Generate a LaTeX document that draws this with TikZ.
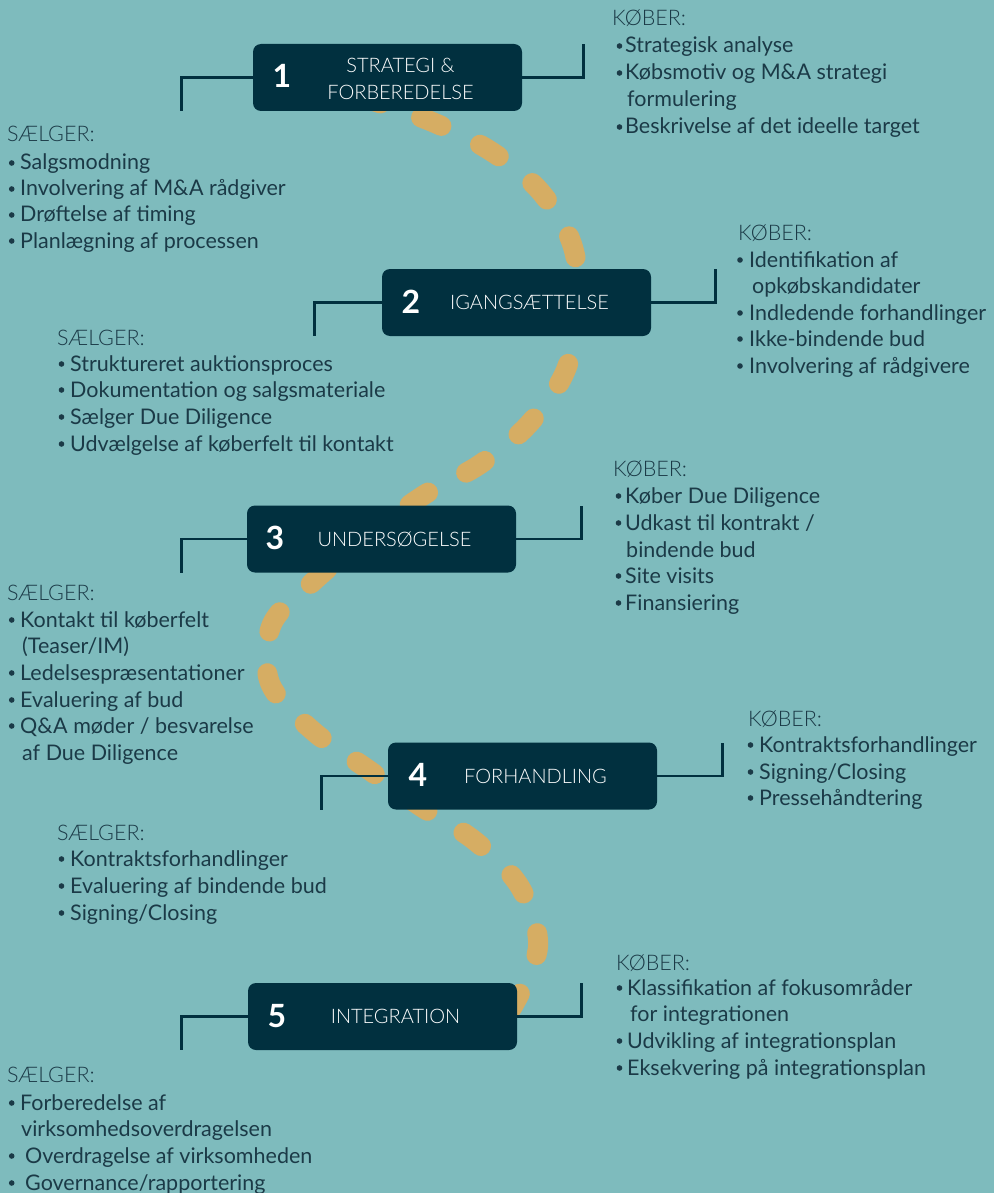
\documentclass[tikz,border=0pt]{standalone}
\usepackage{fontspec}
\setmainfont{Lato}
\newfontfamily\lightfont{Lato Light}
\usetikzlibrary{calc}
\definecolor{bgc}{HTML}{7EBBBD}
\definecolor{boxc}{HTML}{01303F}
\definecolor{tanc}{HTML}{D6AD63}
\definecolor{txtc}{HTML}{1B3A47}
% \itm{name}{bullet centre x}{baseline y}{text x}{text}
\newcommand{\itm}[5]{\node[it] (#1) at (#4,#3) {#5};
  \fill[txtc] (#2,#3-7) circle (2.8pt);}
\begin{document}
\begin{tikzpicture}[x=1pt,y=-1pt,
  every node/.style={inner sep=0pt},
  stagebox/.style={fill=boxc, rounded corners=8pt, minimum width=269pt, minimum height=67pt},
  numtxt/.style={anchor=base, text=white, font=\bfseries\fontsize{32}{34}\selectfont},
  ttl/.style={anchor=base, text=white, font=\lightfont\fontsize{20}{24}\selectfont},
  brk/.style={draw=boxc, line width=2.8pt},
  hd/.style={anchor=base west, text=txtc, font=\lightfont\fontsize{21.5}{26}\selectfont},
  it/.style={anchor=base west, text=txtc, font=\fontsize{21.5}{26}\selectfont},
  snake/.style={draw=tanc, line width=20pt, line cap=round}]
\useasboundingbox (0,0) rectangle (994,1193);
\fill[bgc] (0,0) rectangle (994,1193);

% dashed path (two pieces joined behind box 3)
\draw[snake, dash pattern=on 22pt off 43pt, dash phase=11pt]
  plot[smooth, tension=0.55] coordinates {
 (370,100) (430,121) (489,150) (539,190) (572,244) (579,308) (565,372)
 (528,425) (479,465) (424,495) (368,535)};
\draw[snake, dash pattern=on 22pt off 42.2pt, dash phase=11pt]
  plot[smooth, tension=0.55] coordinates {
 (368,535) (315,580) (272,624) (270,683) (313,731) (366,768) (420,806)
 (475,841) (520,887) (538,947) (512,1008)};

% stage boxes
\node[stagebox] (b1) at (387.5,77.5) {};
\node[stagebox] (b2) at (516.5,302.5) {};
\node[stagebox] (b3) at (381.5,539) {};
\node[stagebox] (b4) at (522.5,776) {};
\node[stagebox] (b5) at (382.5,1016.5) {};

% brackets
\draw[brk] (b1.west) -- ++(-71,0) -- ++(0,33.5);
\draw[brk] (b1.east) -- ++(61,0) -- ++(0,-33.5);
\draw[brk] (b2.west) -- ++(-67,0) -- ++(0,33.5);
\draw[brk] (b2.east) -- ++(64,0) -- ++(0,-33.5);
\draw[brk] (b3.west) -- ++(-65,0) -- ++(0,33.5);
\draw[brk] (b3.east) -- ++(65,0) -- ++(0,-33.5);
\draw[brk] (b4.west) -- ++(-66,0) -- ++(0,33.5);
\draw[brk] (b4.east) -- ++(65,0) -- ++(0,-33.5);
\draw[brk] (b5.west) -- ++(-66,0) -- ++(0,33.5);
\draw[brk] (b5.east) -- ++(64,0) -- ++(0,-33.5);

% numbers and titles
\node[numtxt] (n1) at ($(b1.west)+(29,10.5)$) {1};
\node[ttl] (t1a) at ($(b1.center)+(13,-4.5)$) {STRATEGI \&};
\node[ttl] (t1b) at ($(b1.center)+(13,22.5)$) {FORBEREDELSE};
\node[numtxt] (n2) at ($(b2.west)+(29,10.5)$) {2};
\node[ttl] (t2) at ($(b2.center)+(13,7)$) {IGANGSÆTTELSE};
\node[numtxt] (n3) at ($(b3.west)+(28,10.5)$) {3};
\node[ttl] (t3) at ($(b3.center)+(13,7)$) {UNDERSØGELSE};
\node[numtxt] (n4) at ($(b4.west)+(30,10.5)$) {4};
\node[ttl] (t4) at ($(b4.center)+(13,7)$) {FORHANDLING};
\node[numtxt] (n5) at ($(b5.west)+(29,10.5)$) {5};
\node[ttl] (t5) at ($(b5.center)+(13,7)$) {INTEGRATION};

% KØBER 1
\node[hd] (k1h) at (612,26) {KØBER:};
\itm{k1a}{619.5}{53}{625}{Strategisk analyse}
\itm{k1b}{619.5}{80}{625}{Købsmotiv og M\&A strategi}
\node[it] (k1c) at (627,107) {formulering};
\itm{k1d}{619.5}{134}{625}{Beskrivelse af det ideelle target}

% SÆLGER 1
\node[hd] (s1h) at (7,142) {SÆLGER:};
\itm{s1a}{11.7}{170}{20}{Salgsmodning}
\itm{s1b}{11.7}{196}{20}{Involvering af M\&A rådgiver}
\itm{s1c}{11.7}{222}{20}{Drøftelse af timing}
\itm{s1d}{11.7}{248}{20}{Planlægning af processen}

% KØBER 2
\node[hd] (k2h) at (738,240) {KØBER:};
\itm{k2a}{740}{267}{749}{Identifikation af}
\node[it] (k2b) at (752,293) {opkøbskandidater};
\itm{k2c}{740}{320}{749}{Indledende forhandlinger}
\itm{k2d}{740}{346}{749}{Ikke-bindende bud}
\itm{k2e}{740}{373}{749}{Involvering af rådgivere}

% SÆLGER 2
\node[hd] (s2h) at (57,345) {SÆLGER:};
\itm{s2a}{61.5}{371}{70}{Struktureret auktionsproces}
\itm{s2b}{61.5}{397}{70}{Dokumentation og salgsmateriale}
\itm{s2c}{61.5}{424}{70}{Sælger Due Diligence}
\itm{s2d}{61.5}{451}{70}{Udvælgelse af køberfelt til kontakt}

% KØBER 3
\node[hd] (k3h) at (613,476) {KØBER:};
\itm{k3a}{618.5}{503}{625}{Køber Due Diligence}
\itm{k3b}{618.5}{530}{625}{Udkast til kontrakt /}
\node[it] (k3c) at (626,557) {bindende bud};
\itm{k3d}{618.5}{583}{625}{Site visits}
\itm{k3e}{618.5}{610}{625}{Finansiering}

% SÆLGER 3
\node[hd] (s3h) at (7,600) {SÆLGER:};
\itm{s3a}{11.7}{627}{20}{Kontakt til køberfelt}
\node[it] (s3b) at (22,653) {(Teaser/IM)};
\itm{s3c}{11.7}{680}{20}{Ledelsespræsentationer}
\itm{s3d}{11.7}{707}{20}{Evaluering af bud}
\itm{s3e}{11.7}{733}{20}{Q\&A møder / besvarelse}
\node[it] (s3f) at (22,760) {af Due Diligence};

% KØBER 4
\node[hd] (k4h) at (748,726) {KØBER:};
\itm{k4a}{750.5}{752}{759}{Kontraktsforhandlinger}
\itm{k4b}{750.5}{779}{759}{Signing/Closing}
\itm{k4c}{750.5}{805}{759}{Pressehåndtering}

% SÆLGER 4
\node[hd] (s4h) at (57,840) {SÆLGER:};
\itm{s4a}{61.5}{866}{70}{Kontraktsforhandlinger}
\itm{s4b}{61.5}{893}{70}{Evaluering af bindende bud}
\itm{s4c}{61.5}{920}{70}{Signing/Closing}

% KØBER 5
\node[hd] (k5h) at (616,970) {KØBER:};
\itm{k5a}{619.5}{995}{627}{Klassifikation af fokusområder}
\node[it] (k5b) at (630,1021) {for integrationen};
\itm{k5c}{619.5}{1048}{627}{Udvikling af integrationsplan}
\itm{k5d}{619.5}{1075}{627}{Eksekvering på integrationsplan}

% SÆLGER 5
\node[hd] (s5h) at (7,1082) {SÆLGER:};
\itm{s5a}{11.7}{1110}{20}{Forberedelse af}
\node[it] (s5b) at (21,1136) {virksomhedsoverdragelsen};
\itm{s5c}{11.7}{1163}{25}{Overdragelse af virksomheden}
\itm{s5d}{11.7}{1190}{25}{Governance/rapportering}
\end{tikzpicture}
\end{document}
